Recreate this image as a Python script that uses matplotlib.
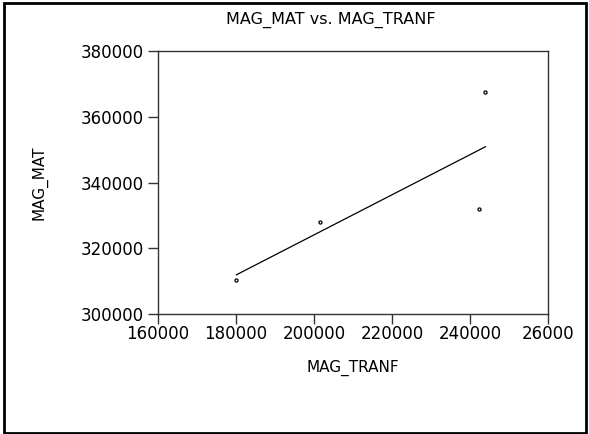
import numpy as np
import matplotlib
matplotlib.use("Agg")
import matplotlib.pyplot as plt
from matplotlib.patches import Rectangle

# Data
mag_tranf = [180100, 201500, 242300, 243950]
mag_mat = [310500, 328000, 331900, 367450]

x_ticks = [160000, 180000, 200000, 220000, 240000, 260000]
x_tick_labels = ["160000", "180000", "200000", "220000", "240000", "26000"]
y_ticks = [300000, 320000, 340000, 360000, 380000]
y_tick_labels = ["300000", "320000", "340000", "360000", "380000"]

plt.rcParams['font.family'] = ['DejaVu Sans']

W, H = 589, 434
fig = plt.figure(figsize=(W / 100, H / 100), dpi=100)
ax = fig.add_axes([158 / W, 1 - 314.3 / H, (548 - 158) / W, (314.3 - 51) / H])

x = np.array(mag_tranf, dtype=float)
y = np.array(mag_mat, dtype=float)
ax.scatter(x, y, s=5, facecolor='white', edgecolor='black', linewidths=0.9, zorder=3)

b, a = np.polyfit(x, y, 1)
xl = np.array([x.min(), x.max()])
ax.plot(xl, a + b * xl, color='black', lw=0.9)

ax.set_xlim(160000, 260000)
ax.set_ylim(300000, 380000)
ax.set_xticks(x_ticks)
ax.set_xticklabels(x_tick_labels)
ax.set_yticks(y_ticks)
ax.set_yticklabels(y_tick_labels)
ax.tick_params(direction='out', length=7, width=1, labelsize=12, color='#333333')
ax.tick_params(axis='x', pad=1)
ax.tick_params(axis='y', pad=3)
for s in ax.spines.values():
    s.set_color('#333333')
    s.set_linewidth(1)

ax.set_xlabel("MAG_TRANF", fontsize=11, labelpad=12)
ax.set_ylabel("MAG_MAT", fontsize=11, labelpad=24)
fig.text(331 / W, 1 - 20 / H, "MAG_MAT vs. MAG_TRANF", ha='center', va='center', fontsize=11.5)

fig.patches.append(Rectangle((4 / W, 1.5 / H), (586 - 4) / W, (431.5 - 1.5) / H,
                             transform=fig.transFigure, fill=False, edgecolor='black', lw=2))

fig.savefig("out.png", dpi=100)
